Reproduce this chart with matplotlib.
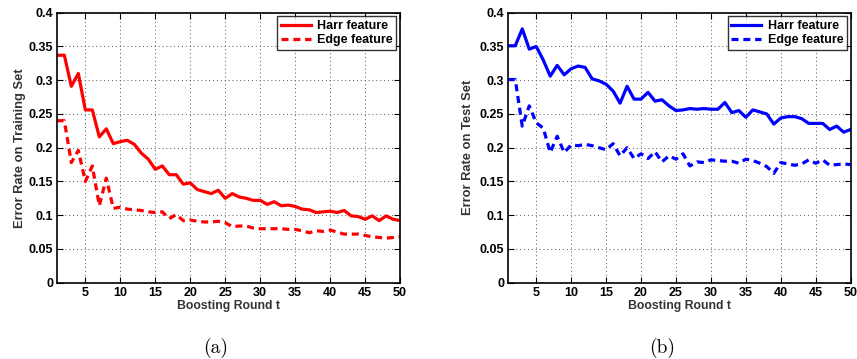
import numpy as np
import matplotlib.pyplot as plt

rounds = np.arange(1, 51)

# training set error (a)
train_harr = [0.337, 0.337, 0.291, 0.310, 0.256, 0.256, 0.216, 0.228, 0.206, 0.209,
              0.211, 0.205, 0.192, 0.183, 0.168, 0.173, 0.160, 0.160, 0.146, 0.148,
              0.138, 0.135, 0.132, 0.137, 0.125, 0.132, 0.127, 0.125, 0.122, 0.122,
              0.116, 0.120, 0.114, 0.115, 0.113, 0.109, 0.108, 0.104, 0.105, 0.106,
              0.104, 0.107, 0.099, 0.098, 0.094, 0.099, 0.092, 0.099, 0.094, 0.092]
train_edge = [0.240, 0.240, 0.178, 0.196, 0.150, 0.173, 0.114, 0.155, 0.110, 0.112,
              0.109, 0.108, 0.107, 0.105, 0.104, 0.105, 0.095, 0.101, 0.092, 0.093,
              0.091, 0.090, 0.090, 0.091, 0.089, 0.083, 0.084, 0.084, 0.081, 0.080,
              0.080, 0.080, 0.080, 0.079, 0.079, 0.077, 0.074, 0.077, 0.076, 0.078,
              0.075, 0.072, 0.072, 0.072, 0.070, 0.068, 0.067, 0.066, 0.067, 0.068]

# test set error (b)
test_harr = [0.351, 0.351, 0.376, 0.346, 0.350, 0.330, 0.306, 0.322, 0.308, 0.317,
             0.321, 0.319, 0.302, 0.299, 0.294, 0.284, 0.266, 0.291, 0.272, 0.272,
             0.282, 0.269, 0.271, 0.262, 0.255, 0.256, 0.258, 0.257, 0.258, 0.257,
             0.257, 0.267, 0.252, 0.255, 0.245, 0.256, 0.253, 0.250, 0.235, 0.244,
             0.246, 0.246, 0.243, 0.236, 0.236, 0.236, 0.227, 0.232, 0.223, 0.227]
test_edge = [0.301, 0.301, 0.232, 0.262, 0.237, 0.229, 0.193, 0.217, 0.193, 0.204,
             0.203, 0.205, 0.203, 0.200, 0.197, 0.206, 0.188, 0.200, 0.184, 0.191,
             0.184, 0.194, 0.179, 0.188, 0.183, 0.191, 0.173, 0.179, 0.178, 0.182,
             0.181, 0.180, 0.180, 0.177, 0.183, 0.181, 0.177, 0.172, 0.162, 0.178,
             0.176, 0.174, 0.176, 0.182, 0.177, 0.182, 0.174, 0.175, 0.176, 0.175]

yticks = [0, 0.05, 0.1, 0.15, 0.2, 0.25, 0.3, 0.35, 0.4]
yticklabels = ['0', '0.05', '0.1', '0.15', '0.2', '0.25', '0.3', '0.35', '0.4']
xticks = [5, 10, 15, 20, 25, 30, 35, 40, 45, 50]

plt.rcParams['font.family'] = ['Liberation Sans', 'DejaVu Sans']

fig = plt.figure(figsize=(8.57, 3.59), dpi=100)
ax1 = fig.add_axes([0.0669, 0.2125, 0.4, 0.7521])
ax2 = fig.add_axes([0.5931, 0.2125, 0.3995, 0.7521])

panels = [
    (ax1, train_harr, train_edge, 'red', 'Error Rate on Training Set', '(a)', -0.090, 0.463),
    (ax2, test_harr, test_edge, 'blue', 'Error Rate on Test Set', '(b)', -0.100, 0.449),
]

for ax, harr, edge, c, ylab, cap, ylx, capx in panels:
    ax.plot(rounds, harr, color=c, lw=2.3, label='Harr feature')
    ax.plot(rounds, edge, color=c, lw=2.3, ls=(0, (2.2, 1.5)), label='Edge feature')
    ax.set_xlim(1, 50)
    ax.set_ylim(0, 0.4)
    ax.set_xticks(xticks)
    ax.set_yticks(yticks)
    ax.set_yticklabels(yticklabels)
    ax.tick_params(direction='in', top=True, right=True, length=4, width=0.8,
                   labelsize=9, pad=3)
    for lbl in ax.get_xticklabels() + ax.get_yticklabels():
        lbl.set_fontweight('bold')
    for s in ax.spines.values():
        s.set_linewidth(1.2)
    ax.grid(True, ls=(0, (1, 3)), color='#555555', lw=0.7)
    ax.set_xlabel('Boosting Round t', fontsize=8.8, fontweight='bold', color='#333333', labelpad=1)
    ax.set_ylabel(ylab, fontsize=9.3, fontweight='bold', color='#333333')
    ax.yaxis.set_label_coords(ylx, 0.5)
    leg = ax.legend(loc='upper right', fontsize=9, frameon=True, fancybox=False,
                    borderaxespad=0.3, handlelength=2.4, handletextpad=0.5,
                    labelspacing=0.15, borderpad=0.3)
    leg.get_frame().set_edgecolor('black')
    leg.get_frame().set_linewidth(1.0)
    for t in leg.get_texts():
        t.set_fontweight('bold')
    ax.text(capx, -0.242, cap, transform=ax.transAxes, ha='center', va='center',
            fontsize=14, family=['cmr10', 'DejaVu Serif'])

fig.savefig('out.png', dpi=100)
